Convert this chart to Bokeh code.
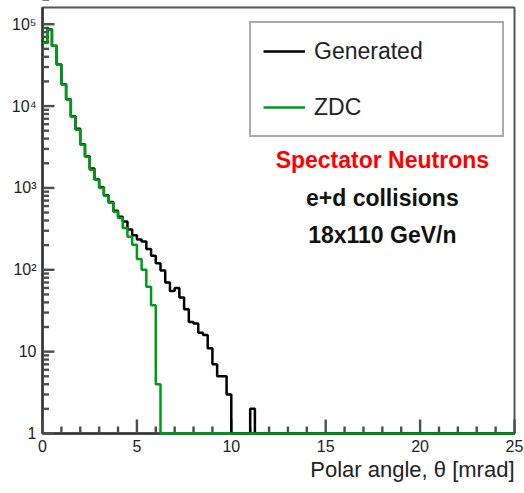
import numpy as np
from bokeh.plotting import figure
from bokeh.models import (Range1d, Legend, LegendItem, Label, CustomJSTickFormatter,
                          FixedTicker, Title)
from bokeh.embed import file_html
from bokeh.resources import INLINE

# Histogram: 100 bins of 0.25 mrad from 0 to 25 mrad
n_bins = 100
theta_min = 0.0
theta_max = 25.0

generated_counts = [59500, 86500, 54500, 32300, 18500, 12100, 7500, 5300, 3420, 2440,
                    1730, 1280, 1020, 815, 675, 525, 445, 390, 310, 265,
                    235, 222, 180, 148, 120, 98, 70, 55, 60, 46,
                    33, 23, 22, 17, 16, 11, 7, 5, 5, 3,
                    0, 0, 0, 0, 2]
zdc_counts = [59000, 86000, 54000, 32000, 18300, 12000, 7400, 5150, 3380, 2410,
              1670, 1260, 1000, 800, 660, 510, 430, 325, 253, 202,
              135, 100, 62, 37, 4]

x_ticks = [0, 5, 10, 15, 20, 25]
x_minor_ticks = [t for t in range(1, 25) if t % 5 != 0]
y_ticks = [1, 10, 100, 1000, 10000, 100000]
y_minor_ticks = [m * 10 ** k for k in range(0, 6) for m in range(2, 10)]

FONT = "Liberation Sans"
Y_MIN = 1.0
Y_MAX = 1.6e5

edges = np.linspace(theta_min, theta_max, n_bins + 1)


def step_values(counts):
    v = np.zeros(n_bins)
    v[:len(counts)] = counts
    v = np.maximum(v, Y_MIN)  # empty bins drawn at the bottom of the log axis
    return np.append(v, v[-1])


p = figure(width=524, height=493, y_axis_type="log",
           x_range=Range1d(theta_min, theta_max), y_range=Range1d(Y_MIN, Y_MAX),
           output_backend="svg", toolbar_location=None,
           min_border_left=42, min_border_right=10, min_border_top=7, min_border_bottom=60)
p.background_fill_color = "white"
p.border_fill_color = "white"
p.outline_line_color = "#555555"
p.outline_line_width = 2
p.xgrid.visible = False
p.ygrid.visible = False

# tick marks pointing into the frame (ROOT style), drawn as thin boxes
px_x = 472 / (theta_max - theta_min)
px_dec = 426 / float(np.log10(Y_MAX / Y_MIN))
tick_col = "#4d4d4d"
hw = 1.2 / px_x
hf = 10 ** (1.2 / px_dec)
x_all = list(x_ticks) + x_minor_ticks
x_top = [Y_MIN * 10 ** (14 / px_dec)] * len(x_ticks) + [Y_MIN * 10 ** (7 / px_dec)] * len(x_minor_ticks)
p.quad(left=[x - hw for x in x_all], right=[x + hw for x in x_all],
       bottom=[Y_MIN] * len(x_all), top=x_top,
       fill_color=tick_col, line_color=None, level="overlay")
y_all = list(y_ticks) + y_minor_ticks
y_right = [theta_min + 12 / px_x] * len(y_ticks) + [theta_min + 6.5 / px_x] * len(y_minor_ticks)
p.quad(left=[theta_min] * len(y_all), right=y_right,
       bottom=[y / hf for y in y_all], top=[y * hf for y in y_all],
       fill_color=tick_col, line_color=None, level="overlay")

r_gen = p.step(x=edges, y=step_values(generated_counts), mode="after",
               line_color="black", line_width=2.5, level="overlay")
r_zdc = p.step(x=edges, y=step_values(zdc_counts), mode="after",
               line_color="#009a1a", line_width=2.5, level="overlay")

# axes
for ax in (p.xaxis[0], p.yaxis[0]):
    ax.axis_line_color = "#333333"
    ax.axis_line_width = 2.5
    ax.major_tick_in = 0
    ax.major_tick_out = 0
    ax.minor_tick_in = 0
    ax.minor_tick_out = 0
    ax.major_label_text_font = FONT
    ax.major_label_text_font_size = "16px"
    ax.major_label_text_color = "#222222"

p.xaxis.ticker = FixedTicker(ticks=x_ticks)
p.xaxis.major_label_standoff = 6
p.yaxis.ticker = FixedTicker(ticks=y_ticks)
p.yaxis.major_label_standoff = 6
p.yaxis.formatter = CustomJSTickFormatter(code="""
const sup = {"0":"\u2070","1":"\u00b9","2":"\u00b2","3":"\u00b3","4":"\u2074",
             "5":"\u2075","6":"\u2076","7":"\u2077","8":"\u2078","9":"\u2079"};
const e = Math.round(Math.log10(tick));
if (e === 0) return "1";
if (e === 1) return "10";
return "10" + String(e).split("").map(c => sup[c]).join("");
""")

# axis title (right aligned like ROOT)
p.add_layout(Title(text="Polar angle, \u03b8 [mrad]", align="right",
                   text_font=FONT, text_font_size="22px", text_color="#222222",
                   text_font_style="normal", standoff=0, offset=0), "below")

# legend
legend = Legend(items=[LegendItem(label="Generated", renderers=[r_gen]),
                       LegendItem(label="ZDC", renderers=[r_zdc])],
                location=(207, 296), orientation="vertical",
                label_text_font=FONT, label_text_font_size="23px",
                label_text_color="#222222",
                glyph_width=42, glyph_height=32, label_height=32, label_width=176,
                label_standoff=9, spacing=24, padding=12, margin=0,
                border_line_color="#555555", border_line_width=2,
                background_fill_color="white", background_fill_alpha=1.0)
p.add_layout(legend)

# annotation texts
p.add_layout(Label(x=18.0, y=2215, text="Spectator Neutrons", text_font=FONT,
                   text_font_style="bold", text_font_size="23px", text_color="#ff0000",
                   text_align="center", text_baseline="middle"))
p.add_layout(Label(x=18.0, y=758, text="e+d collisions", text_font=FONT,
                   text_font_style="bold", text_font_size="23px", text_color="#111111",
                   text_align="center", text_baseline="middle"))
p.add_layout(Label(x=18.0, y=268, text="18x110 GeV/n", text_font=FONT,
                   text_font_style="bold", text_font_size="23px", text_color="#111111",
                   text_align="center", text_baseline="middle"))

open("out.html", "w").write(file_html(p, INLINE))
